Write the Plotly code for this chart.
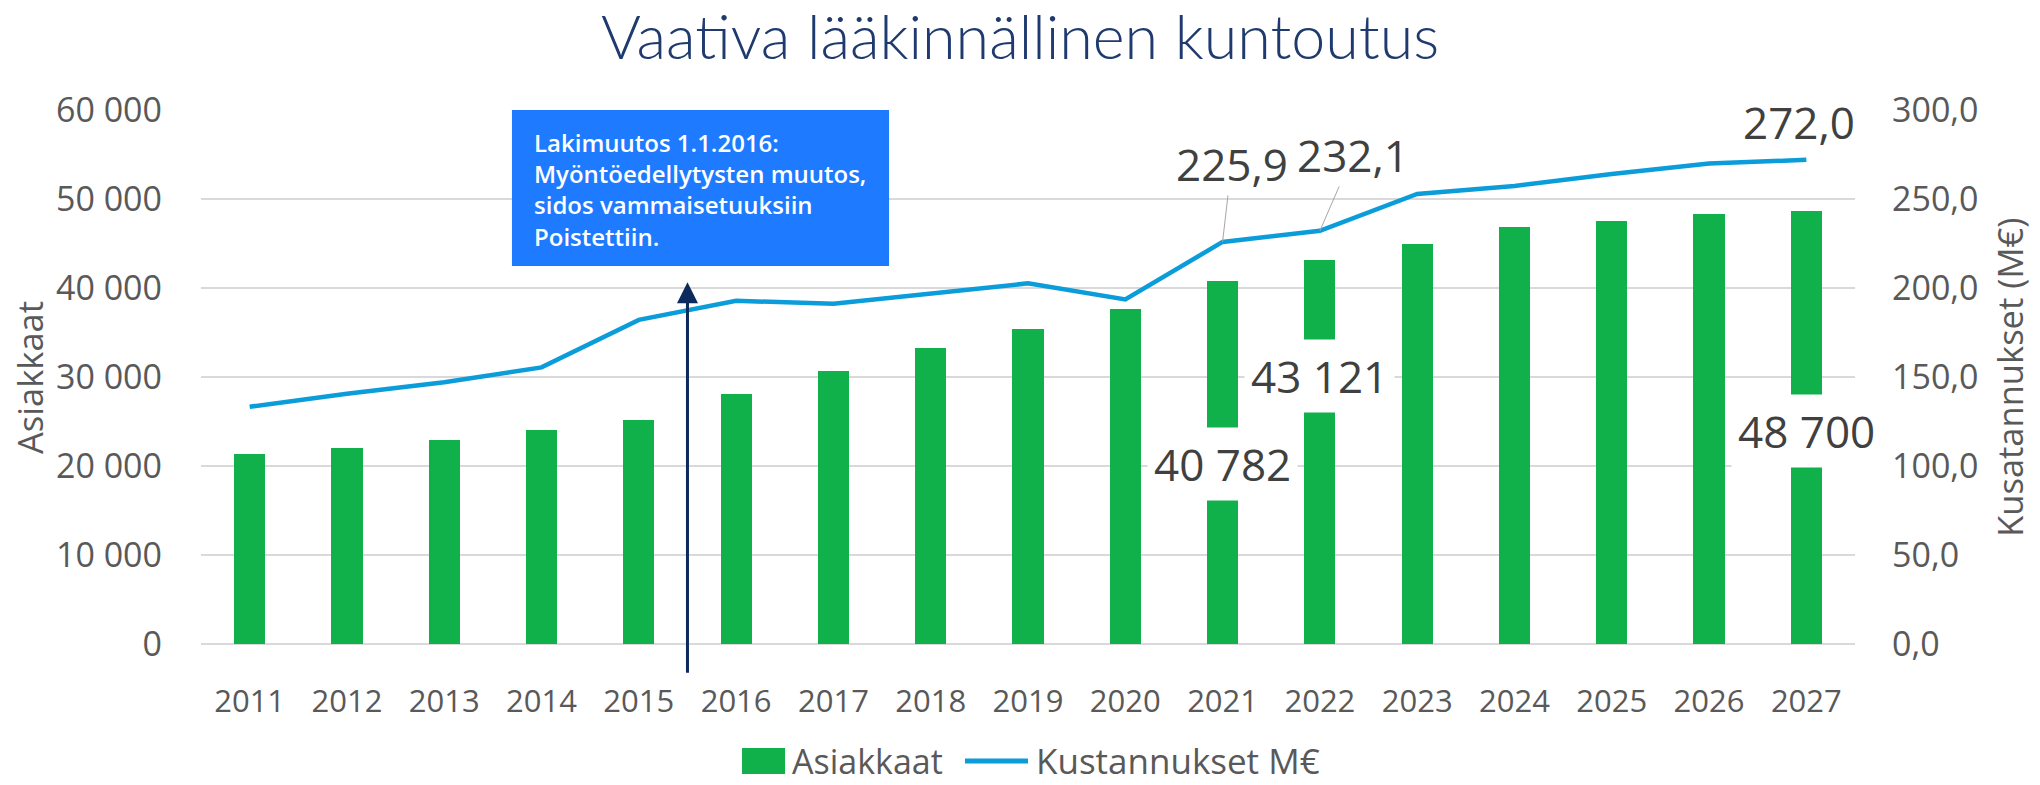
import plotly.graph_objects as go

years = ["2011", "2012", "2013", "2014", "2015", "2016", "2017", "2018", "2019",
         "2020", "2021", "2022", "2023", "2024", "2025", "2026", "2027"]
asiakkaat = [21370, 22050, 22930, 24020, 25140, 28070, 30720, 33210, 35420,
             37670, 40782, 43121, 44900, 46900, 47580, 48260, 48700]
kustannukset = [133.3, 140.6, 147.0, 155.4, 182.1, 192.8, 191.2, 197.2, 202.6,
                193.6, 225.9, 232.1, 252.8, 257.3, 264.0, 270.0, 272.0]

title_text = "Vaativa lääkinnällinen kuntoutus"
box_text = ("Lakimuutos 1.1.2016:<br>Myöntöedellytysten muutos,<br>"
            "sidos vammaisetuuksiin<br>Poistettiin.")
series_names = ["Asiakkaat", "Kustannukset M€"]

FONT = "Open Sans, sans-serif"
GRAY = "#595959"
DARK = "#404040"
GREEN = "#10B04B"
BLUE = "#0B9CDA"

fig = go.Figure()
fig.add_trace(go.Bar(x=years, y=asiakkaat, name=series_names[0], width=0.32,
                     marker=dict(color=GREEN, line=dict(width=0))))
fig.add_trace(go.Scatter(x=years, y=kustannukset, name=series_names[1], yaxis="y2",
                         mode="lines", line=dict(color=BLUE, width=4.5)))

ann = []
# value labels with white boxes on bars
for i, yc in [(10, 20200), (11, 30100), (16, 23900)]:
    ann.append(dict(x=i, y=yc, xref="x", yref="y", showarrow=False,
                    text=f"{asiakkaat[i]:,}".replace(",", " "),
                    font=dict(family=FONT, size=44, color=DARK),
                    bgcolor="white", borderpad=6))
# cost labels
for i, ax, ay in [(10, 9, -78), (11, 33, -76)]:
    ann.append(dict(x=i, y=kustannukset[i], xref="x", yref="y2",
                    text=f"{kustannukset[i]:.1f}".replace(".", ","),
                    showarrow=True, arrowhead=0, arrowwidth=1, arrowcolor="#A6A6A6",
                    ax=ax, ay=ay, standoff=0,
                    font=dict(family=FONT, size=44, color=DARK)))
ann.append(dict(x=16, y=kustannukset[16], xref="x", yref="y2",
                text=f"{kustannukset[16]:.1f}".replace(".", ","), showarrow=False,
                xshift=-7, yshift=38, font=dict(family=FONT, size=44, color=DARK)))
# note text
ann.append(dict(x=0.2, y=0.852, xref="paper", yref="paper", xanchor="left",
                yanchor="middle", align="left", showarrow=False, text=box_text,
                font=dict(family=FONT, size=24, color="white", weight=600)))
# arrow
ann.append(dict(x=4.5, y=40650, xref="x", yref="y", text="", showarrow=True,
                ax=0, ay=392, arrowhead=2, arrowsize=1.4, arrowwidth=3,
                arrowcolor="#0D2A5C", standoff=0))
# axis titles
ann.append(dict(x=-0.104, y=0.5, xref="paper", yref="paper", text="Asiakkaat",
                textangle=-90, showarrow=False, xanchor="center", yanchor="middle",
                font=dict(family=FONT, size=34.5, color=GRAY)))
ann.append(dict(x=1.093, y=0.5, xref="paper", yref="paper", text="Kusatannukset (M€)",
                textangle=-90, showarrow=False, xanchor="center", yanchor="middle",
                font=dict(family=FONT, size=34.5, color=GRAY)))
# legend texts
ann.append(dict(x=0.3561, y=-0.2191, xref="paper", yref="paper", text=series_names[0],
                showarrow=False, xanchor="left", yanchor="middle",
                font=dict(family=FONT, size=34, color=GRAY)))
ann.append(dict(x=0.5036, y=-0.2191, xref="paper", yref="paper", text=series_names[1],
                showarrow=False, xanchor="left", yanchor="middle",
                font=dict(family=FONT, size=35, color=GRAY)))

shapes = [
    dict(type="rect", xref="paper", yref="paper", x0=0.188, x1=0.416,
         y0=0.708, y1=1.0, fillcolor="#1E7BFF", line=dict(width=0), layer="above"),
    # legend swatches
    dict(type="rect", xref="paper", yref="paper", x0=0.3271, x1=0.3531,
         y0=-0.2434, y1=-0.1948, fillcolor=GREEN, line=dict(width=0)),
    dict(type="line", xref="paper", yref="paper", x0=0.4619, x1=0.5,
         y0=-0.2191, y1=-0.2191, line=dict(color=BLUE, width=5)),
]

fig.update_layout(
    width=2040, height=785,
    margin=dict(l=201, r=185, t=110, b=141, autoexpand=False),
    paper_bgcolor="white", plot_bgcolor="white",
    separators=", ",
    showlegend=False,
    title=dict(text=title_text, x=0.5, xanchor="center", y=0.952, yanchor="middle",
               font=dict(family="Lato, Open Sans, sans-serif", size=61,
                         color="#1F3A6E", weight=300)),
    bargap=0,
    xaxis=dict(type="category", range=[-0.5, 16.5], showgrid=False, showline=False,
               ticks="", tickfont=dict(family=FONT, size=31, color=GRAY),
               ticklabelstandoff=36),
    yaxis=dict(range=[0, 60000], dtick=10000, tickformat=",d",
               showgrid=True, gridcolor="#D9D9D9", gridwidth=2,
               zeroline=True, zerolinecolor="#D9D9D9", zerolinewidth=2,
               showline=False, ticks="", ticklabelstandoff=38,
               tickfont=dict(family=FONT, size=34, color=GRAY)),
    yaxis2=dict(range=[0, 300], dtick=50, tickformat=".1f", overlaying="y",
                side="right", showgrid=False, zeroline=False, showline=False,
                ticks="", ticklabelstandoff=36,
                tickfont=dict(family=FONT, size=34, color=GRAY)),
    shapes=shapes,
    annotations=ann,
)

fig.write_html("out.html", config={"displayModeBar": False},
               post_script="document.body.style.margin='0px';")
